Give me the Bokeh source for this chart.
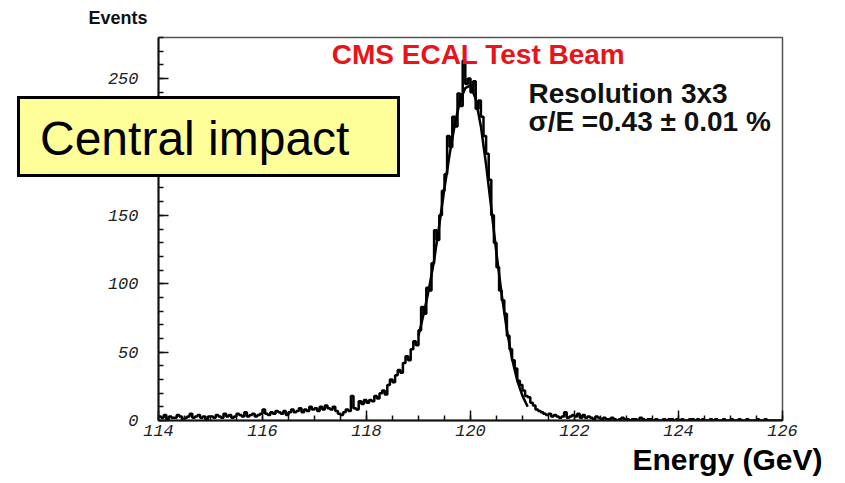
import numpy as np
from bokeh.plotting import figure
from bokeh.models import Range1d, Label, FixedTicker, Title, Div
from bokeh.layouts import column
from bokeh.embed import file_html
from bokeh.resources import INLINE

# ---- data: histogram, 0.05 GeV bins from 114.00 to 126.00 (one row per GeV) ----
bin_lo = 114.0
bin_width = 0.05
counts = [
    3, 2, 4, 1, 3, 2, 2, 4, 3, 1, 2, 3, 5, 2, 3, 4, 2, 3, 1, 3,            # 114
    3, 2, 4, 3, 2, 5, 3, 4, 2, 3, 5, 4, 3, 6, 3, 4, 5, 3, 4, 5,            # 115
    8, 5, 4, 6, 5, 7, 6, 5, 7, 4, 6, 8, 6, 7, 9, 6, 8, 7, 10, 8,           # 116
    9, 7, 10, 8, 11, 9, 8, 10, 7, 5, 4, 6, 8, 7, 18, 9, 8, 14, 12, 15,     # 117
    13, 15, 14, 18, 16, 20, 22, 19, 26, 30, 28, 33, 37, 35, 42, 47, 44, 52, 58, 55,  # 118
    66, 83, 78, 97, 95, 115, 139, 132, 150, 168, 180, 208, 200, 222, 215, 239, 230, 263, 246, 250,  # 119
    240, 248, 228, 234, 222, 208, 195, 176, 150, 130, 112, 95, 88, 78, 62, 52, 44, 38, 29, 26,  # 120
    22, 18, 17, 13, 11, 8, 7, 6, 5, 4, 5, 3, 4, 3, 2, 3, 6, 2, 3, 4,       # 121
    3, 5, 2, 4, 2, 3, 2, 1, 3, 2, 1, 2, 1, 1, 2, 1, 0, 1, 2, 1,            # 122
    1, 0, 1, 1, 0, 2, 1, 0, 1, 1, 0, 1, 0, 0, 1, 0, 1, 1, 0, 1,            # 123
    0, 1, 0, 0, 1, 1, 0, 1, 0, 1, 0, 0, 1, 0, 1, 0, 0, 1, 0, 0,            # 124
    1, 0, 0, 1, 0, 0, 1, 0, 0, 0, 1, 0, 0, 1, 0, 0, 0, 0, 0, 0,            # 125
]

# ---- data: fitted curve ----
fit_energy = [119.0, 119.1, 119.2, 119.3, 119.4, 119.5, 119.6, 119.7, 119.8, 119.9, 120.0,
              120.1, 120.2, 120.3, 120.4, 120.5, 120.6, 120.7, 120.8, 120.9, 121.0, 121.1]
fit_events = [62, 78, 96, 117, 143, 170, 195, 217, 234, 243, 245,
              235, 215, 187, 155, 122, 92, 66, 45, 29, 18, 10]

x_ticks = [114, 116, 118, 120, 122, 124, 126]
y_ticks = [0, 50, 100, 150, 200, 250]

title_text = "CMS ECAL Test Beam"
res_text = "Resolution 3x3"
sigma_text = "\u03c3/E =0.43 \u00b1 0.01 %"
box_text = "Central impact"
y_title = "Events"
x_title = "Energy (GeV)"

# ---- figure ----
p = figure(width=845, height=483, output_backend="svg", toolbar_location=None,
           x_range=Range1d(114, 126), y_range=Range1d(0, 280))
p.min_border_left = 158
p.min_border_right = 63
p.min_border_top = 37
p.min_border_bottom = 63
p.background_fill_color = "white"
p.border_fill_color = "white"
p.outline_line_color = "#555555"
p.outline_line_width = 1.5
p.xgrid.visible = False
p.ygrid.visible = False

for ax in (p.xaxis[0], p.yaxis[0]):
    ax.axis_line_color = "#111111"
    ax.axis_line_width = 2
    ax.major_tick_line_color = "#111111"
    ax.minor_tick_line_color = "#111111"
    ax.major_tick_line_width = 1.5
    ax.minor_tick_line_width = 1.5
    ax.major_tick_in = 10
    ax.major_tick_out = 0
    ax.minor_tick_in = 5
    ax.minor_tick_out = 0
    ax.major_label_text_font = "Liberation Mono"
    ax.major_label_text_font_style = "italic"
    ax.major_label_text_font_size = "17px"
    ax.major_label_text_color = "#222222"

p.xaxis[0].ticker = FixedTicker(ticks=x_ticks, minor_ticks=list(np.arange(114, 126.01, 0.5)))
p.yaxis[0].ticker = FixedTicker(ticks=y_ticks, minor_ticks=list(range(0, 281, 10)))
p.xaxis[0].major_label_standoff = 4
p.yaxis[0].major_label_standoff = 20

# axis titles placed as panel titles (outside the frame)
p.add_layout(Title(text=y_title, align="left", offset=-70, standoff=15,
                   vertical_align="top",
                   text_font="Liberation Sans", text_font_style="bold",
                   text_font_size="18px", text_color="#111111"), "above")
p.add_layout(Title(text=x_title, align="right", offset=-40, standoff=8,
                   vertical_align="top",
                   text_font="Liberation Sans", text_font_style="bold",
                   text_font_size="30px", text_color="#000000"), "below")

# histogram as steps
edges = bin_lo + bin_width * np.arange(len(counts) + 1)
p.step(x=list(edges), y=counts + [counts[-1]], mode="after",
       line_color="black", line_width=2.5)
# fit curve
p.line(x=fit_energy, y=fit_events, line_color="black", line_width=2.5)

# ---- texts inside the frame (positions in data units) ----
p.add_layout(Label(x=120.154, y=267.5, text=title_text, text_align="center",
                   text_baseline="alphabetic", text_font="Liberation Sans",
                   text_font_style="bold", text_font_size="28px", text_color="#e8141a"))
p.add_layout(Label(x=121.115, y=239.0, text=res_text, text_align="left",
                   text_baseline="alphabetic", text_font="Liberation Sans",
                   text_font_style="bold", text_font_size="28px", text_color="#111111"))
p.add_layout(Label(x=121.115, y=218.5, text=sigma_text, text_align="left",
                   text_baseline="alphabetic", text_font="Liberation Sans",
                   text_font_style="bold", text_font_size="28px", text_color="#111111"))

# yellow "Central impact" box, overlaid on the figure
box_div = Div(
    text=('<div style="position:absolute;left:20px;top:16px;'
          'font-family:\'Liberation Sans\',Arial,sans-serif;font-size:48px;'
          'line-height:47px;color:black;white-space:nowrap;">' + box_text + '</div>'),
    width=383, height=81,
    styles={"position": "absolute", "left": "17px", "top": "96px",
            "width": "383px", "height": "81px", "background-color": "#ffff99",
            "border": "3px solid black", "box-sizing": "border-box",
            "z-index": "10", "margin": "0", "padding": "0"})

layout = column(p, box_div)

open("out.html", "w").write(file_html(layout, INLINE))
